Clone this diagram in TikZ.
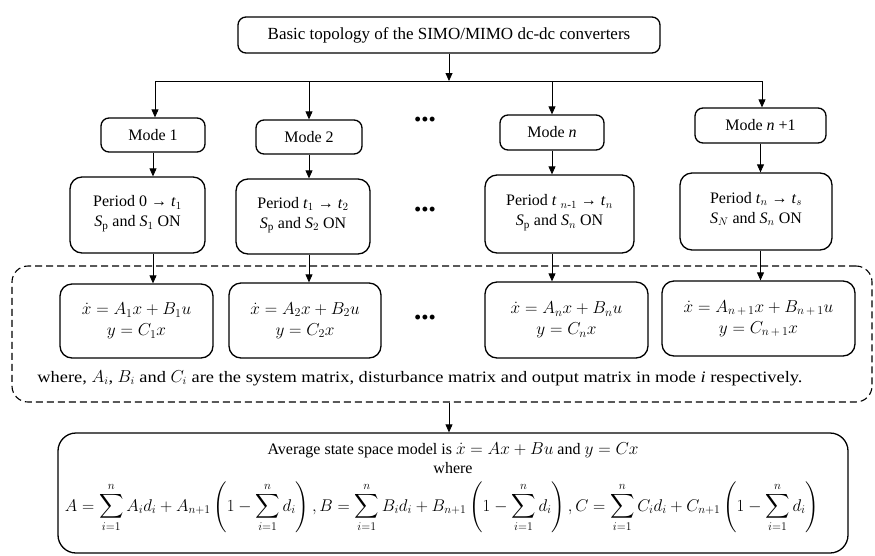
\documentclass[tikz,border=0pt]{standalone}
\usepackage{fontspec}
\setmainfont{Liberation Serif}
\newfontfamily\widefont[FakeStretch=1.15]{Liberation Serif}
\usepackage{amsmath}
\usetikzlibrary{arrows.meta}
\begin{document}
\begin{tikzpicture}[x=1pt,y=-1pt,
  box/.style={draw, line width=1.3pt, rounded corners=8pt, inner sep=0pt, align=center},
  arr/.style={-{Triangle[length=8pt,width=7pt]}, line width=0.8pt},
  ln/.style={line width=0.8pt},
  lbl/.style={inner sep=0pt, align=center},
  txt/.style={font=\fontsize{16}{20}\selectfont},
  eq/.style={font=\fontsize{18}{21}\selectfont},
  dotsn/.style={inner sep=0pt, font=\fontsize{18}{18}\selectfont\bfseries}]
\useasboundingbox (0,0) rectangle (875,555);
% top
\node[box, minimum width=422pt, minimum height=36pt, font=\fontsize{17}{20}\selectfont] (top) at (449,35) {Basic topology of the SIMO/MIMO dc-dc converters};
% modes
\node[box, txt, minimum width=104pt, minimum height=34pt] (m1) at (153,135) {Mode 1};
\node[box, txt, minimum width=106pt, minimum height=34pt] (m2) at (309,137) {Mode 2};
\node[box, txt, minimum width=104pt, minimum height=35pt] (mn) at (552,132.5) {Mode \textit{n}};
\node[box, txt, minimum width=131pt, minimum height=35pt] (mn1) at (760.5,125.5) {Mode \textit{n} +1};
\node[dotsn] (d1) at (425,121) {\textbullet\kern1pt\textbullet\kern1pt\textbullet};
% periods
\node[box, txt, minimum width=135pt, minimum height=76pt, rounded corners=12pt] (p1) at (137.5,215) {Period 0 → \textit{t}$_1$\\\textit{S}$_{\mathrm{p}}$ and \textit{S}$_1$ ON\\[-12pt]};
\node[box, txt, minimum width=134pt, minimum height=75pt, rounded corners=12pt] (p2) at (303,216.5) {Period \textit{t}$_1$ → \textit{t}$_2$\\\textit{S}$_{\mathrm{p}}$ and \textit{S}$_2$ ON\\[-12pt]};
\node[box, txt, minimum width=149pt, minimum height=78pt, rounded corners=12pt] (pn) at (559.5,214) {Period \textit{t} $_{n\text{-}1}$ → \textit{t}$_n$\\\textit{S}$_{\mathrm{p}}$ and \textit{S}$_n$ ON\\[-12pt]};
\node[box, txt, minimum width=152pt, minimum height=77pt, rounded corners=12pt] (pn1) at (756,211.5) {Period \textit{t}$_n$ → \textit{t}$_s$\\\textit{S}$_N$ and \textit{S}$_n$ ON\\[-12pt]};
\node[dotsn] (d2) at (425,211) {\textbullet\kern1pt\textbullet\kern1pt\textbullet};
% dashed region
\node[draw, dashed, dash pattern=on 7pt off 4pt, line width=1.1pt, rounded corners=16pt, minimum width=860pt, minimum height=136pt, inner sep=0pt] (dash) at (442,334) {};
% equation boxes
\node[box, eq, minimum width=153pt, minimum height=74pt, rounded corners=12pt] (e1) at (136.5,321) {$\dot{x} = A_1 x + B_1 u$\\$y = C_1 x$};
\node[box, eq, minimum width=152pt, minimum height=75pt, rounded corners=12pt] (e2) at (305,320.5) {$\dot{x} = A_2 x + B_2 u$\\$y = C_2 x$};
\node[box, eq, minimum width=163pt, minimum height=76pt, rounded corners=12pt] (en) at (566.5,320) {$\dot{x} = A_n x + B_n u$\\$y = C_n x$};
\node[box, eq, minimum width=193pt, minimum height=75pt, rounded corners=12pt] (en1) at (758.5,318.5) {$\dot{x} = A_{n\,+\,1} x + B_{n\,+\,1} u$\\$y = C_{n\,+\,1} x$};
\node[dotsn] (d3) at (425,319) {\textbullet\kern1pt\textbullet\kern1pt\textbullet};
\node[lbl, font=\fontsize{16}{20}\widefont] (where) at (420,378) {where, $A_i$, $B_i$ and $C_i$ are the system matrix, disturbance matrix and output matrix in mode \textit{i} respectively.};
% bottom
\node[box, minimum width=790pt, minimum height=120pt, rounded corners=18pt] (bot) at (453,493) {};
\node[lbl, font=\fontsize{16}{20}\selectfont] (l1) at (453,450) {Average state space model is $\dot{x} = Ax + Bu$ and $y = Cx$};
\node[lbl, font=\fontsize{16}{20}\selectfont] (l2) at (453,468) {where};
\node[lbl, font=\fontsize{17}{20}\selectfont] (l3) at (442,507) {\resizebox{754pt}{!}{$\displaystyle A=\sum_{i=1}^{n}A_i d_i + A_{n+1}\left(1-\sum_{i=1}^{n}d_i\right), B=\sum_{i=1}^{n}B_i d_i + B_{n+1}\left(1-\sum_{i=1}^{n}d_i\right), C=\sum_{i=1}^{n}C_i d_i + C_{n+1}\left(1-\sum_{i=1}^{n}d_i\right)$}};
% connectors
\coordinate (bus) at (449,81);
\coordinate (busL) at (155,81);
\coordinate (busR) at (762,81);
\draw[arr] (top.south -| bus) -- (bus);
\draw[ln] (busL) -- (busR);
\draw[arr] (busL) -- (busL |- m1.north);
\draw[arr] (m2.north |- bus) -- (m2.north);
\draw[arr] (mn.north |- bus) -- (mn.north);
\draw[arr] (busR) -- (busR |- mn1.north);
\draw[arr] (m1.south) -- (m1.south |- p1.north);
\draw[arr] (m2.south) -- (m2.south |- p2.north);
\draw[arr] (mn.south) -- (mn.south |- pn.north);
\draw[arr] (mn1.south) -- (mn1.south |- pn1.north);
\draw[arr] (p1.south -| m1.south) -- (m1.south |- e1.north);
\draw[arr] (p2.south -| m2.south) -- (m2.south |- e2.north);
\draw[arr] (pn.south -| mn.south) -- (mn.south |- en.north);
\draw[arr] (pn1.south -| mn1.south) -- (mn1.south |- en1.north);
\draw[arr] (dash.south -| bus) -- (bus |- bot.north);
\end{tikzpicture}
\end{document}
